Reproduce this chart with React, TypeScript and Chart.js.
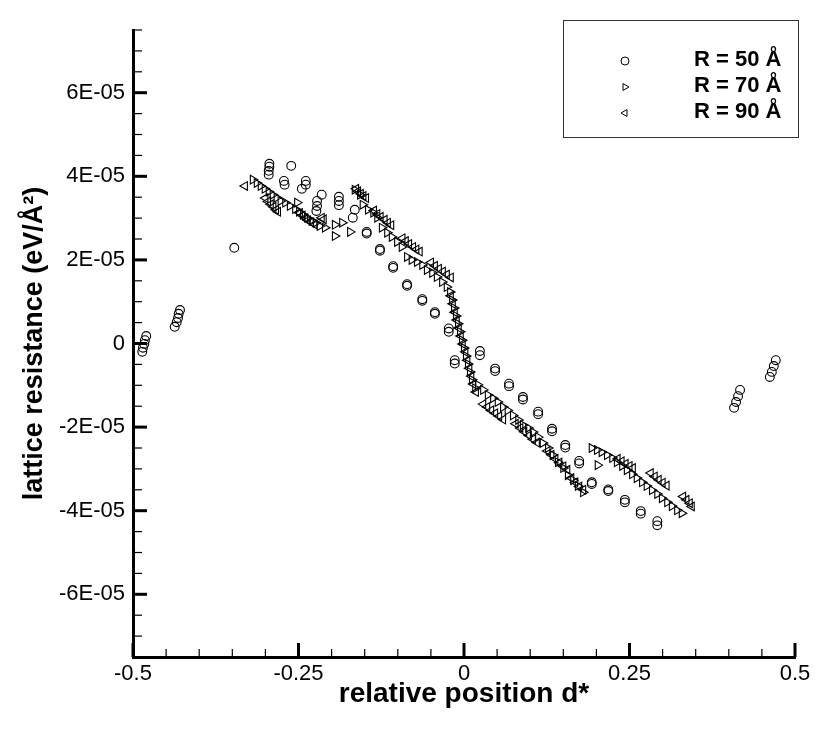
import { useEffect, useRef } from "react";
import { Chart, registerables } from "chart.js";

Chart.register(...registerables);

// resistance values are in units of 1E-05 eV/Å²
const Y_UNIT = 1e-5;

const seriesLabels = ["R = 50 Å", "R = 70 Å", "R = 90 Å"];

const xTickValues = [-0.5, -0.25, 0, 0.25, 0.5];
const xTickLabels = ["-0.5", "-0.25", "0", "0.25", "0.5"];
const yTickValues = [-6, -4, -2, 0, 2, 4, 6];
const yTickLabels = ["-6E-05", "-4E-05", "-2E-05", "0", "2E-05", "4E-05", "6E-05"];

// R = 50 Å (circles)
const r50X = [
  -0.486, -0.485, -0.483, -0.482, -0.48,
  -0.437, -0.434, -0.432, -0.431, -0.429,
  -0.347,
  -0.295, -0.295, -0.294, -0.294, -0.261, -0.272, -0.271,
  -0.239, -0.239, -0.245, -0.215, -0.222, -0.222, -0.223,
  -0.189, -0.189, -0.189, -0.165, -0.168,
  -0.147, -0.147, -0.127, -0.127, -0.107, -0.107, -0.086, -0.086,
  -0.063, -0.063, -0.044, -0.044, -0.023, -0.023, -0.014, -0.014,
  0.024, 0.024, 0.047, 0.047, 0.068, 0.068, 0.089, 0.089,
  0.112, 0.112, 0.133, 0.133, 0.153, 0.153, 0.174, 0.174,
  0.193, 0.193, 0.218, 0.218, 0.243, 0.243, 0.267, 0.267, 0.292, 0.292,
  0.417, 0.414, 0.411, 0.408,
  0.471, 0.468, 0.465, 0.462,
];
const r50Y = [
  -0.2, -0.1, -0.01, 0.08, 0.18,
  0.4, 0.51, 0.61, 0.71, 0.8,
  2.29,
  4.04, 4.13, 4.23, 4.3, 4.25, 3.89, 3.8,
  3.89, 3.8, 3.7, 3.56, 3.41, 3.29, 3.17,
  3.51, 3.41, 3.31, 3.2, 3.01,
  2.63, 2.67, 2.22, 2.26, 1.81, 1.85, 1.38, 1.42,
  1.02, 1.06, 0.71, 0.75, 0.28, 0.36, -0.4, -0.48,
  -0.18, -0.28, -0.6, -0.66, -0.96, -1.02, -1.28, -1.34,
  -1.63, -1.69, -2.04, -2.1, -2.43, -2.49, -2.81, -2.87,
  -3.32, -3.36, -3.49, -3.53, -3.74, -3.8, -4.01, -4.07, -4.25, -4.35,
  -1.11, -1.26, -1.4, -1.54,
  -0.4, -0.54, -0.68, -0.8,
];

// R = 70 Å (right-pointing triangles)
const r70X = [
  -0.319, -0.313, -0.307, -0.301, -0.295, -0.289, -0.283, -0.277, -0.27,
  -0.263, -0.255, -0.249, -0.243, -0.237, -0.23, -0.224, -0.218, -0.21,
  -0.252, -0.195, -0.184, -0.195, -0.172,
  -0.165, -0.157, -0.153, -0.145, -0.137, -0.131, -0.124, -0.116, -0.109, -0.101,
  -0.094, -0.086, -0.079, -0.071, -0.063, -0.056, -0.048, -0.041, -0.033, -0.026,
  -0.021, -0.018, -0.015, -0.012, -0.009, -0.006, -0.003, 0.0, 0.003, 0.006, 0.009, 0.012, 0.017,
  0.021, 0.029, 0.036, 0.044, 0.051, 0.059, 0.066, 0.074, 0.082, 0.089, 0.097,
  0.104, 0.112, 0.119, 0.127, 0.134, 0.142, 0.15, 0.157, 0.165, 0.172, 0.18,
  0.193, 0.201, 0.208, 0.216, 0.202, 0.224, 0.231, 0.239, 0.246, 0.254,
  0.261, 0.269, 0.276, 0.284, 0.292, 0.299, 0.307, 0.314, 0.322, 0.329,
];
const r70Y = [
  3.92, 3.84, 3.77, 3.7, 3.63, 3.56, 3.49, 3.41, 3.37,
  3.29, 3.22, 3.15, 3.08, 3.01, 2.93, 2.89, 2.81, 2.77,
  3.37, 2.84, 2.89, 2.57, 2.67,
  3.68, 3.56, 3.32, 3.2, 3.13, 3.01, 2.77, 2.65, 2.55, 2.43,
  2.31, 2.07, 2.0, 1.95, 1.88, 1.76, 1.69, 1.59, 1.47, 1.35,
  1.23, 1.04, 0.85, 0.66, 0.47, 0.28, 0.08, -0.11, -0.3, -0.49, -0.68, -0.87, -1.07,
  -0.99, -1.11, -1.23, -1.31, -1.4, -1.52, -1.6, -1.72, -1.83, -1.95, -2.02,
  -2.12, -2.24, -2.38, -2.5, -2.67, -2.84, -2.98, -3.15, -3.27, -3.41, -3.56,
  -2.5, -2.55, -2.6, -2.67, -2.91, -2.74, -2.84, -2.93, -3.03, -3.13,
  -3.22, -3.32, -3.41, -3.51, -3.6, -3.7, -3.8, -3.89, -3.99, -4.06,
];

// R = 90 Å (left-pointing triangles)
const r90X = [
  -0.331,
  -0.3, -0.296, -0.292, -0.288, -0.284, -0.281,
  -0.248, -0.244, -0.24, -0.236, -0.231, -0.226, -0.215, -0.212,
  -0.163, -0.16, -0.156, -0.152, -0.148,
  -0.136, -0.131, -0.126, -0.12, -0.115, -0.11,
  -0.093, -0.088, -0.083, -0.077, -0.072, -0.067,
  -0.05, -0.044, -0.038, -0.032, -0.026, -0.02,
  -0.02, -0.017, -0.014, -0.011, -0.008, -0.005, -0.002, 0.002, 0.005, 0.008, 0.011, 0.014, 0.018,
  0.029, 0.035, 0.041, 0.047, 0.053, 0.059,
  0.078, 0.085, 0.091, 0.098, 0.104, 0.11,
  0.126, 0.132, 0.138, 0.144, 0.15, 0.156,
  0.162, 0.168, 0.174, 0.18,
  0.232, 0.238, 0.244, 0.25, 0.255,
  0.282, 0.288, 0.294, 0.3, 0.306,
  0.331, 0.336, 0.341, 0.344,
];
const r90Y = [
  3.77,
  3.48, 3.4, 3.33, 3.27, 3.2, 3.15,
  3.12, 3.06, 3.0, 2.95, 2.9, 2.85, 3.01, 2.97,
  3.7, 3.64, 3.58, 3.53, 3.48,
  3.18, 3.1, 3.03, 2.96, 2.89, 2.83,
  2.52, 2.45, 2.38, 2.31, 2.25, 2.2,
  1.94, 1.86, 1.79, 1.72, 1.65, 1.58,
  1.14, 0.95, 0.75, 0.56, 0.37, 0.18, -0.01, -0.2, -0.4, -0.59, -0.78, -0.97, -1.16,
  -1.45, -1.52, -1.6, -1.67, -1.74, -1.82,
  -1.92, -2.02, -2.11, -2.2, -2.29, -2.37,
  -2.57, -2.66, -2.76, -2.85, -2.94, -3.02,
  -3.22, -3.32, -3.42, -3.5,
  -2.76, -2.82, -2.88, -2.93, -2.98,
  -3.1, -3.18, -3.26, -3.33, -3.4,
  -3.66, -3.74, -3.82, -3.9,
];

const FONT = "'Liberation Sans', Arial, Helvetica, sans-serif";

function toPoints(xs: number[], ys: number[]) {
  return xs.map((x, i) => ({ x, y: ys[i] * Y_UNIT }));
}

function isYMajor(value: number) {
  return yTickValues.findIndex((t) => Math.abs(t - value / Y_UNIT) < 1e-6);
}

function isXMajor(value: number) {
  return xTickValues.findIndex((t) => Math.abs(t - value) < 1e-6);
}

// tecplot style ticks pointing into the plot
const inwardTicks = {
  id: "inwardTicks",
  afterDraw(chart: Chart) {
    const { ctx, chartArea } = chart;
    const xs = chart.scales.x;
    const ys = chart.scales.y;
    ctx.save();
    ctx.strokeStyle = "#000";
    ys.ticks.forEach((t) => {
      const major = isYMajor(t.value) >= 0;
      const py = ys.getPixelForValue(t.value);
      ctx.lineWidth = major ? 3 : 1.2;
      ctx.beginPath();
      ctx.moveTo(chartArea.left, py);
      ctx.lineTo(chartArea.left + (major ? 14 : 9), py);
      ctx.stroke();
    });
    xs.ticks.forEach((t) => {
      const major = isXMajor(t.value) >= 0;
      const px = xs.getPixelForValue(t.value);
      ctx.lineWidth = major ? 3 : 1.2;
      ctx.beginPath();
      ctx.moveTo(px, chartArea.bottom);
      ctx.lineTo(px, chartArea.bottom - (major ? 14 : 8));
      ctx.stroke();
    });
    ctx.restore();
  },
};

function drawMarker(ctx: CanvasRenderingContext2D, kind: number, x: number, y: number, r: number) {
  ctx.beginPath();
  if (kind === 0) {
    ctx.arc(x, y, r, 0, Math.PI * 2);
  } else {
    const dir = kind === 1 ? 1 : -1;
    ctx.moveTo(x + dir * r, y);
    ctx.lineTo(x - dir * r * 0.5, y - r * 0.866);
    ctx.lineTo(x - dir * r * 0.5, y + r * 0.866);
    ctx.closePath();
  }
  ctx.stroke();
}

const boxedLegend = {
  id: "boxedLegend",
  afterDraw(chart: Chart) {
    const { ctx, chartArea } = chart;
    const right = chartArea.right + 3;
    const left = right - 235;
    const top = chartArea.top - 10;
    const bottom = chartArea.top + 107;
    ctx.save();
    ctx.strokeStyle = "#333";
    ctx.lineWidth = 1;
    ctx.strokeRect(left + 0.5, top + 0.5, right - left, bottom - top);
    ctx.fillStyle = "#000";
    ctx.font = `bold 22px ${FONT}`;
    ctx.textAlign = "left";
    ctx.textBaseline = "middle";
    seriesLabels.forEach((label, i) => {
      const y = chartArea.top + 31 + i * 26;
      ctx.strokeStyle = "#000";
      ctx.lineWidth = 1;
      drawMarker(ctx, i, left + 62, y, 4);
      ctx.fillText(label, left + 131, y - 1);
    });
    ctx.restore();
  },
};

export default function App() {
  const chartRef = useRef<HTMLCanvasElement | null>(null);

  useEffect(() => {
    if (!chartRef.current) return;
    Chart.defaults.font.family = FONT;
    Chart.defaults.color = "#000";

    const marker = {
      borderColor: "#000",
      backgroundColor: "rgba(0,0,0,0)",
      borderWidth: 1.1,
      showLine: false,
    };

    const chart = new Chart(chartRef.current, {
      type: "scatter",
      data: {
        datasets: [
          {
            ...marker,
            label: seriesLabels[0],
            data: toPoints(r50X, r50Y),
            pointStyle: "circle",
            pointRadius: 4.4,
          },
          {
            ...marker,
            label: seriesLabels[1],
            data: toPoints(r70X, r70Y),
            pointStyle: "triangle",
            pointRotation: 90,
            pointRadius: 5,
          },
          {
            ...marker,
            label: seriesLabels[2],
            data: toPoints(r90X, r90Y),
            pointStyle: "triangle",
            pointRotation: -90,
            pointRadius: 5,
          },
        ],
      },
      options: {
        animation: false,
        responsive: true,
        maintainAspectRatio: false,
        layout: { padding: { top: 30, right: 35, left: 0, bottom: 0 } },
        plugins: {
          legend: { display: false },
          tooltip: { enabled: false },
        },
        scales: {
          x: {
            type: "linear",
            min: -0.5,
            max: 0.5,
            afterFit: (scale) => {
              scale.height = 82;
            },
            grid: { display: false, drawTicks: false },
            border: { display: true, width: 3, color: "#000" },
            ticks: {
              stepSize: 0.05,
              autoSkip: false,
              maxRotation: 0,
              padding: 4,
              font: { size: 22 },
              color: "#000",
              callback: (value) => {
                const i = isXMajor(Number(value));
                return i >= 0 ? xTickLabels[i] : "";
              },
            },
            title: {
              display: true,
              text: "relative position d*",
              font: { size: 28, weight: "bold" },
              color: "#000",
              padding: { top: 0, bottom: 28 },
            },
          },
          y: {
            type: "linear",
            min: -7.5 * Y_UNIT,
            max: 7.5 * Y_UNIT,
            afterFit: (scale) => {
              scale.width = 133;
            },
            grid: { display: false, drawTicks: false },
            border: { display: true, width: 3, color: "#000" },
            ticks: {
              stepSize: 0.5 * Y_UNIT,
              autoSkip: false,
              padding: 8,
              font: { size: 22 },
              color: "#000",
              callback: (value) => {
                const i = isYMajor(Number(value));
                return i >= 0 ? yTickLabels[i] : "";
              },
            },
            title: {
              display: true,
              text: "lattice resistance (eV/Å²)",
              font: { size: 27, weight: "bold" },
              color: "#000",
              padding: { top: 18, bottom: 0 },
            },
          },
        },
      },
      plugins: [inwardTicks, boxedLegend],
    });

    return () => {
      chart.destroy();
    };
  }, []);

  return (
    <div style={{ position: "absolute", left: 0, top: 0, width: 830, height: 739, background: "#fff" }}>
      <canvas ref={chartRef} />
    </div>
  );
}
